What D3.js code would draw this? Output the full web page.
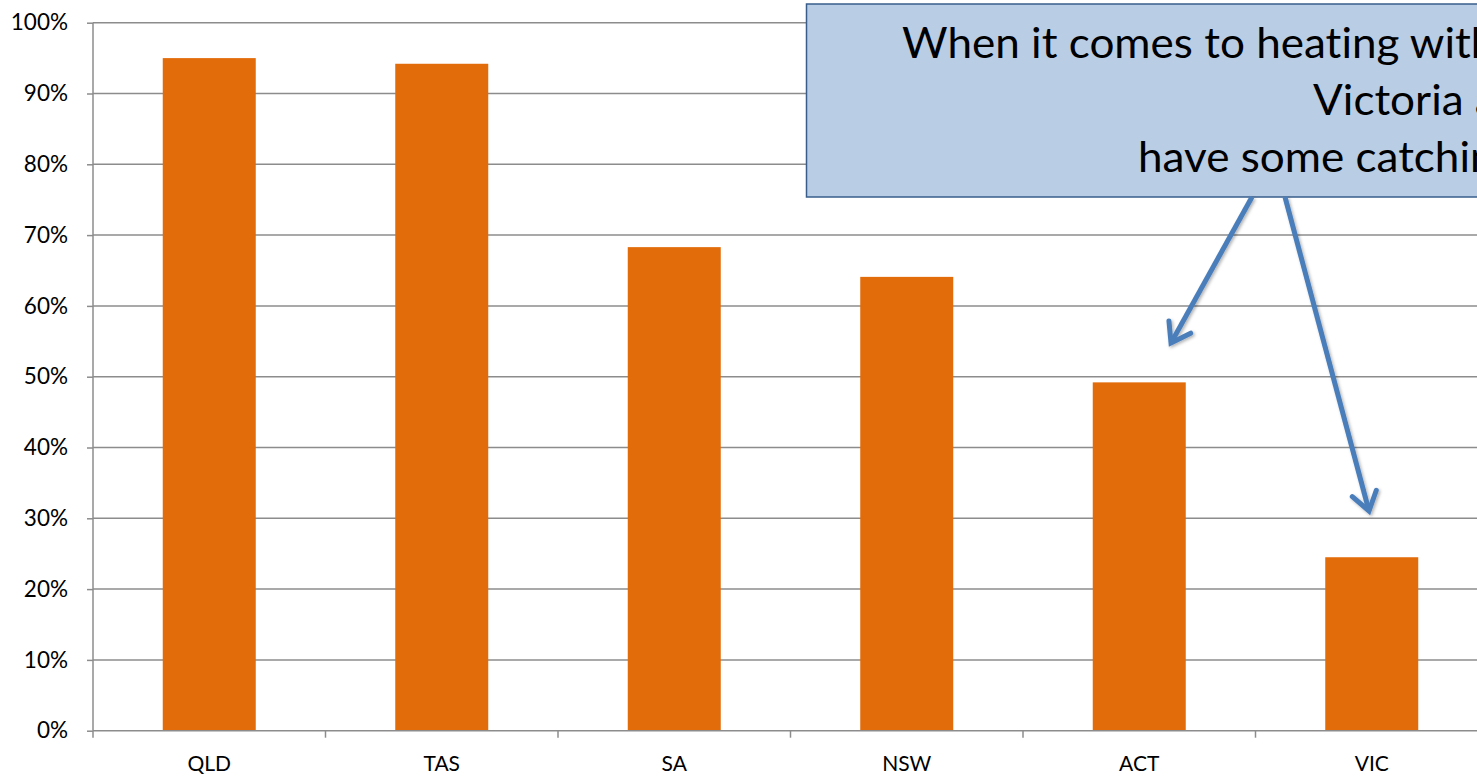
<!DOCTYPE html>
<html>
<head>
<meta charset="utf-8">
<script src="https://cdnjs.cloudflare.com/ajax/libs/d3/7.8.5/d3.min.js"></script>
<style>
  html, body { margin: 0; padding: 0; background: #fff; overflow: hidden; }
  svg { display: block; }
  text { font-variant-ligatures: none; }
</style>
</head>
<body>
<svg id="chart" width="1477" height="776"></svg>
<script>
const categories = ["QLD", "TAS", "SA", "NSW", "ACT", "VIC"];
const values = [0.950, 0.942, 0.683, 0.641, 0.492, 0.245];
const yTicks = [0, 0.1, 0.2, 0.3, 0.4, 0.5, 0.6, 0.7, 0.8, 0.9, 1.0];
const calloutLines = ["When it comes to heating with", "Victoria and", "have some catching up to do"];
const arrowTargets = ["ACT", "VIC"];

const svg = d3.select("#chart");
const pL = 93, pR = 1488, pT = 22.7, pB = 730.7;
const font = "Lato, 'Open Sans', sans-serif";

const x = d3.scaleBand().domain(categories).range([pL, pR]).paddingInner(0.6).paddingOuter(0.3);
const y = d3.scaleLinear().domain([0, 1]).range([pB, pT]);

// gridlines
svg.append("g").selectAll("line").data(yTicks.filter(d => d > 0)).join("line")
  .attr("x1", pL).attr("x2", pR)
  .attr("y1", d => y(d)).attr("y2", d => y(d))
  .attr("stroke", "#8c8c8c").attr("stroke-width", 1.5);

// y axis
const yAxis = d3.axisLeft(y).tickValues(yTicks).tickFormat(d3.format(".0%")).tickSize(6).tickPadding(19);
const gy = svg.append("g").attr("transform", `translate(${pL},0)`).call(yAxis);
gy.select(".domain").attr("stroke", "#8c8c8c").attr("stroke-width", 1.5).attr("d", `M0,${pT}V${pB}`);
gy.selectAll(".tick line").attr("stroke", "#8c8c8c").attr("stroke-width", 1.5);
gy.selectAll(".tick text").attr("font-family", font).attr("font-size", 22.5).attr("fill", "#000");

// bars
svg.append("g").selectAll("rect").data(categories).join("rect")
  .attr("x", d => x(d)).attr("width", x.bandwidth())
  .attr("y", (d, i) => y(values[i])).attr("height", (d, i) => y(0) - y(values[i]))
  .attr("fill", "#e36c0a");

// x axis
const xb = d3.scaleBand().domain(categories).range([pL, pR]);
const gx = svg.append("g").attr("transform", `translate(0,${pB})`);
gx.append("line").attr("x1", pL).attr("x2", pR).attr("y1", 0).attr("y2", 0)
  .attr("stroke", "#8c8c8c").attr("stroke-width", 1.5);
const bounds = categories.map(c => xb(c)).concat([pR]);
gx.selectAll("line.tk").data(bounds).join("line").attr("class", "tk")
  .attr("x1", d => d).attr("x2", d => d).attr("y1", 0).attr("y2", 7)
  .attr("stroke", "#8c8c8c").attr("stroke-width", 1.5);
gx.selectAll("text").data(categories).join("text")
  .attr("x", d => xb(d) + xb.bandwidth() / 2).attr("y", 40.5)
  .attr("text-anchor", "middle").attr("font-family", font).attr("font-size", 21).attr("fill", "#000")
  .text(d => d);

// callout box
const box = svg.append("g");
box.append("rect").attr("x", 806.5).attr("y", 4).attr("width", 900).attr("height", 193)
  .attr("fill", "#b9cde5").attr("stroke", "#385d8a").attr("stroke-width", 1.5);

const starts = [902, 1313, 1138];
const baselines = [58, 115, 172];
const probe = svg.append("text").attr("font-family", font).attr("font-size", 42).text("When it comes to heating wit");
const probeLen = probe.node().getComputedTextLength();
probe.remove();
const sx = 569 / probeLen;
calloutLines.forEach((t, i) => {
  box.append("text")
    .attr("transform", `translate(${starts[i]},${baselines[i]}) scale(${sx},1)`)
    .attr("font-family", font).attr("font-size", 42).attr("fill", "#000")
    .text(t);
});

// arrows
const defs = svg.append("defs");
const filt = defs.append("filter").attr("id", "sh").attr("x", "-20%").attr("y", "-20%").attr("width", "140%").attr("height", "140%");
filt.append("feDropShadow").attr("dx", 1.5).attr("dy", 1.5).attr("stdDeviation", 1.5).attr("flood-color", "#000").attr("flood-opacity", 0.3);

const arrowSpecs = [
  { cat: arrowTargets[0], x0: 1252, y0: 197, dx: 1171 - (xb("ACT") + xb.bandwidth() / 2), y1: 343 },
  { cat: arrowTargets[1], x0: 1285, y0: 197, dx: 1369 - (xb("VIC") + xb.bandwidth() / 2), y1: 511 }
];
const ag = svg.append("g").attr("filter", "url(#sh)");
arrowSpecs.forEach(a => {
  const x1 = xb(a.cat) + xb.bandwidth() / 2 + a.dx;
  const y1 = a.y1;
  const ang = Math.atan2(y1 - a.y0, x1 - a.x0);
  const L = 22, spread = 0.6;
  const p1 = [x1 - L * Math.cos(ang - spread), y1 - L * Math.sin(ang - spread)];
  const p2 = [x1 - L * Math.cos(ang + spread), y1 - L * Math.sin(ang + spread)];
  ag.append("line").attr("x1", a.x0).attr("y1", a.y0).attr("x2", x1).attr("y2", y1)
    .attr("stroke", "#4a7ebb").attr("stroke-width", 5);
  ag.append("path").attr("d", `M${p1[0]},${p1[1]}L${x1},${y1}L${p2[0]},${p2[1]}`)
    .attr("fill", "none").attr("stroke", "#4a7ebb").attr("stroke-width", 5)
    .attr("stroke-linejoin", "miter").attr("stroke-linecap", "round");
});
</script>
</body>
</html>
